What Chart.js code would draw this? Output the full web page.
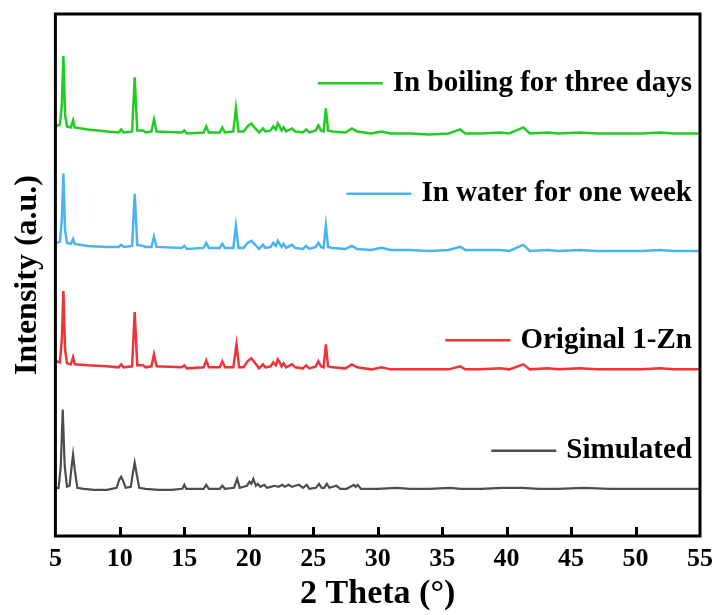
<!DOCTYPE html>
<html>
<head>
<meta charset="utf-8">
<script src="https://cdn.jsdelivr.net/npm/chart.js@4/dist/chart.umd.min.js"></script>
<style>
  html, body { margin: 0; padding: 0; background: #fff; }
  #wrap { width: 721px; height: 615px; position: relative; }
</style>
</head>
<body>
<div id="wrap"><canvas id="xrd"></canvas></div>
<script>
// Подписи серий (сверху вниз)
const seriesLabels = ['In boiling for three days', 'In water for one week', 'Original 1-Zn', 'Simulated'];
const seriesColors = ['#22cc22', '#4ab4f2', '#ec3439', '#4d4d4d'];

// Деления оси X
const xTicks = [5, 10, 15, 20, 25, 30, 35, 40, 45, 50, 55];

// Профили [2θ, интенсивность (отн. ед.)]
const boiling = [
  [5.05, 408], [5.35, 410], [5.5, 430], [5.62, 478], [5.75, 420], [5.9, 408], [6.2, 407], [6.37, 414], [6.5, 407],
  [7.5, 405], [9.0, 403], [9.9, 402], [10.1, 405], [10.3, 402], [10.95, 403], [11.15, 457], [11.35, 404],
  [11.8, 404], [12.0, 402], [12.45, 403], [12.65, 415], [12.85, 403], [14.8, 402], [15.0, 404], [15.2, 401],
  [16.5, 402], [16.7, 408], [16.9, 402], [17.75, 402], [17.95, 407], [18.15, 402], [18.8, 403], [19.0, 426],
  [19.2, 403], [19.6, 403], [19.9, 408], [20.2, 411], [20.5, 406], [20.8, 402], [21.1, 406], [21.3, 403],
  [21.7, 404], [21.9, 408], [22.1, 405], [22.25, 411], [22.4, 408], [22.55, 404], [22.7, 407], [22.9, 403],
  [23.35, 406], [23.6, 403], [24.2, 402], [24.45, 405], [24.7, 402], [25.2, 404], [25.4, 409], [25.6, 404],
  [25.8, 403], [25.98, 426], [26.15, 404], [26.5, 403], [27.5, 402], [28.0, 406], [28.4, 403], [29.5, 401],
  [30.3, 403], [31.0, 401], [32.5, 401], [34.0, 400], [35.5, 401], [36.4, 405], [36.8, 401], [38.0, 401],
  [39.5, 402], [40.2, 401], [41.3, 407], [41.8, 401], [43.2, 402], [44.0, 401], [45.7, 402], [47.0, 401],
  [49.0, 401], [50.5, 401], [51.9, 402], [53.0, 401], [55.0, 401]
];

const water = [
  [5.05, 292], [5.35, 293], [5.5, 315], [5.62, 361], [5.75, 305], [5.9, 292], [6.2, 291], [6.37, 296], [6.5, 291],
  [7.5, 289], [9.0, 288], [9.9, 288], [10.1, 290], [10.3, 288], [10.95, 289], [11.15, 341], [11.35, 290],
  [11.8, 289], [12.0, 288], [12.45, 288], [12.65, 298], [12.85, 288], [14.8, 287], [15.0, 289], [15.2, 286],
  [16.5, 287], [16.7, 292], [16.9, 287], [17.75, 287], [17.95, 291], [18.15, 287], [18.8, 287], [19.0, 309],
  [19.2, 287], [19.6, 287], [19.9, 292], [20.2, 294], [20.5, 290], [20.8, 286], [21.1, 290], [21.3, 287],
  [21.7, 288], [21.9, 292], [22.1, 289], [22.25, 294], [22.4, 291], [22.55, 288], [22.7, 291], [22.9, 287],
  [23.35, 290], [23.6, 287], [24.2, 286], [24.45, 289], [24.7, 286], [25.2, 288], [25.4, 292], [25.6, 288],
  [25.8, 287], [25.98, 309], [26.15, 288], [26.5, 287], [27.5, 286], [28.0, 289], [28.4, 286], [29.5, 285],
  [30.3, 287], [31.0, 285], [32.5, 285], [34.0, 284], [35.5, 285], [36.4, 288], [36.8, 285], [38.0, 285],
  [39.5, 285], [40.2, 284], [41.3, 290], [41.8, 284], [43.2, 285], [44.0, 284], [45.7, 285], [47.0, 284],
  [49.0, 284], [50.5, 284], [51.9, 285], [53.0, 284], [55.0, 284]
];

const original = [
  [5.05, 174], [5.35, 173], [5.5, 196], [5.62, 244], [5.75, 186], [5.9, 172], [6.2, 171], [6.37, 178], [6.5, 171],
  [7.5, 170], [9.0, 169], [9.9, 168], [10.1, 171], [10.3, 168], [10.95, 169], [11.15, 223], [11.35, 170],
  [11.8, 170], [12.0, 168], [12.45, 169], [12.65, 181], [12.85, 169], [14.8, 168], [15.0, 170], [15.2, 167],
  [16.5, 168], [16.7, 175], [16.9, 168], [17.75, 168], [17.95, 174], [18.15, 168], [18.8, 168], [19.05, 191],
  [19.25, 168], [19.6, 168], [19.9, 174], [20.2, 177], [20.5, 172], [20.8, 167], [21.1, 171], [21.3, 168],
  [21.7, 169], [21.9, 173], [22.1, 170], [22.25, 176], [22.4, 173], [22.55, 169], [22.7, 172], [22.9, 168],
  [23.35, 171], [23.6, 168], [24.2, 167], [24.45, 170], [24.7, 167], [25.2, 169], [25.4, 174], [25.6, 169],
  [25.8, 168], [25.98, 191], [26.15, 169], [26.5, 168], [27.5, 167], [28.0, 171], [28.4, 168], [29.5, 166],
  [30.3, 168], [31.0, 166], [32.5, 166], [34.0, 166], [35.5, 166], [36.4, 169], [36.8, 166], [38.0, 166],
  [39.5, 167], [40.2, 166], [41.3, 171], [41.8, 166], [43.2, 167], [44.0, 166], [45.7, 167], [47.0, 166],
  [49.0, 166], [50.5, 166], [51.9, 167], [53.0, 166], [55.0, 166]
];

const simulated = [
  [5.0, 47], [5.25, 48], [5.42, 70], [5.57, 126], [5.72, 70], [5.9, 49], [6.1, 50], [6.25, 68], [6.37, 81],
  [6.5, 66], [6.7, 48], [7.2, 47], [8.0, 46], [9.0, 46], [9.75, 48], [9.95, 56], [10.1, 59], [10.25, 55],
  [10.45, 48], [10.85, 49], [11.0, 62], [11.15, 73], [11.3, 62], [11.5, 48], [12.0, 47], [13.0, 46],
  [14.0, 46], [14.85, 47], [15.0, 51], [15.15, 47], [16.5, 47], [16.7, 51], [16.9, 47], [17.75, 47],
  [17.95, 50], [18.15, 47], [18.85, 48], [19.1, 57], [19.3, 48], [19.6, 49], [19.85, 50], [20.05, 54],
  [20.2, 52], [20.35, 57], [20.55, 50], [20.7, 52], [20.9, 49], [21.2, 51], [21.4, 48], [21.7, 49],
  [22.0, 50], [22.3, 49], [22.6, 51], [22.8, 49], [23.1, 51], [23.35, 49], [23.6, 50], [23.9, 51],
  [24.2, 48], [24.5, 51], [24.7, 47], [25.2, 48], [25.45, 52], [25.65, 48], [25.85, 48], [26.05, 52],
  [26.25, 48], [26.8, 50], [27.1, 47], [27.6, 47], [28.15, 51], [28.3, 49], [28.45, 51], [28.7, 47],
  [30.0, 47], [31.5, 48], [32.5, 47], [34.0, 47], [35.6, 48], [36.5, 47], [38.0, 47], [39.7, 48],
  [41.2, 48], [42.5, 47], [44.0, 47], [46.0, 48], [48.0, 47], [50.0, 47], [52.0, 47], [55.0, 47]
];

const profiles = [boiling, water, original, simulated];

const FONT = "'Liberation Serif', 'Times New Roman', serif";

// Рамка, внутренние деления и подписи серий
const framePlugin = {
  id: 'frame',
  afterDatasetsDraw(chart, args, opts) {
    const { ctx, chartArea: a, scales: { x, y } } = chart;
    ctx.save();
    ctx.strokeStyle = '#000';
    ctx.lineWidth = 3;
    ctx.strokeRect(a.left, a.top, a.right - a.left, a.bottom - a.top);

    ctx.beginPath();
    xTicks.slice(1, -1).forEach(v => {
      const px = Math.round(x.getPixelForValue(v)) + 0.5;
      ctx.moveTo(px, a.bottom);
      ctx.lineTo(px, a.bottom - opts.tickLen);
    });
    ctx.stroke();

    ctx.font = `bold ${opts.fontSize}px ${FONT}`;
    ctx.textAlign = 'right';
    ctx.textBaseline = 'middle';
    seriesLabels.forEach((label, i) => {
      const py = y.getPixelForValue(opts.labelY[i]);
      const right = a.right - opts.inset;
      const w = ctx.measureText(label).width;
      ctx.fillStyle = '#000';
      ctx.fillText(label, right, py);
      ctx.strokeStyle = seriesColors[i];
      ctx.lineWidth = 2.5;
      ctx.beginPath();
      ctx.moveTo(right - w - opts.gap - opts.lineLen, py);
      ctx.lineTo(right - w - opts.gap, py);
      ctx.stroke();
    });
    ctx.restore();
  }
};

new Chart(document.getElementById('xrd'), {
  type: 'line',
  data: {
    datasets: profiles.map((d, i) => ({
      label: seriesLabels[i],
      data: d,
      borderColor: seriesColors[i],
      borderWidth: i === 3 ? 2.2 : 2.5,
      pointRadius: 0,
      tension: 0,
      fill: false
    }))
  },
  options: {
    responsive: true,
    maintainAspectRatio: false,
    animation: false,
    layout: { padding: { left: 9, right: 18, top: 14, bottom: 0 } },
    scales: {
      x: {
        type: 'linear',
        min: 5,
        max: 55,
        afterBuildTicks: (scale) => { scale.ticks = xTicks.map(v => ({ value: v })); },
        grid: { display: false, drawTicks: false },
        border: { display: false },
        ticks: {
          color: '#000',
          padding: 8,
          maxRotation: 0,
          font: { family: FONT, size: 26, weight: 'bold' }
        },
        title: {
          display: true,
          text: '2 Theta (°)',
          color: '#000',
          padding: { top: -9, bottom: 0 },
          font: { family: FONT, size: 34, weight: 'bold' }
        }
      },
      y: {
        min: 0,
        max: 520,
        grid: { display: false, drawTicks: false },
        border: { display: false },
        ticks: { display: false },
        title: {
          display: true,
          text: 'Intensity (a.u.)',
          color: '#000',
          padding: { top: 0, bottom: 8 },
          font: { family: FONT, size: 32, weight: 'bold' }
        }
      }
    },
    plugins: {
      legend: { display: false },
      tooltip: { enabled: false },
      frame: {
        tickLen: 9,
        fontSize: 29,
        inset: 8,
        gap: 10,
        lineLen: 65,
        labelY: [451, 341, 195, 85]
      }
    }
  },
  plugins: [framePlugin]
});
</script>
</body>
</html>
